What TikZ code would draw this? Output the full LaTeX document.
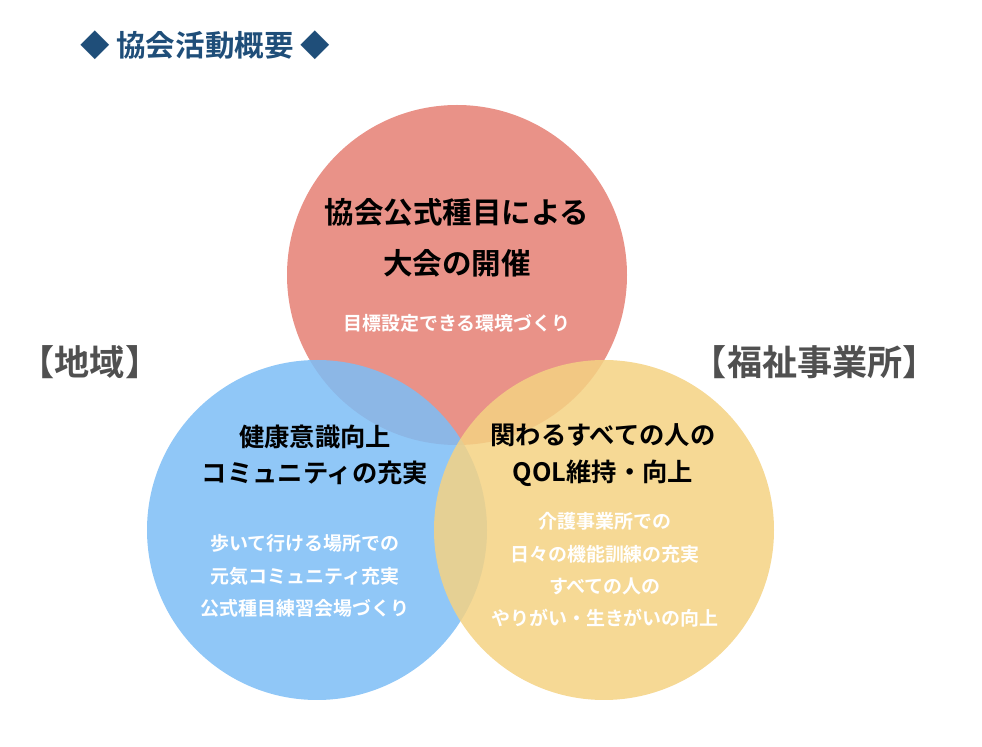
\documentclass[tikz,border=0pt]{standalone}
\usepackage{fontspec}
\setmainfont{Noto Sans CJK JP}
\newfontfamily\jpbold{Noto Sans CJK JP Bold}
\definecolor{titleblue}{HTML}{1F4E79}
\definecolor{redc}{HTML}{E57F73}
\definecolor{bluec}{HTML}{7CBDF6}
\definecolor{yellowc}{HTML}{F4D283}
\definecolor{sidegray}{HTML}{505050}

\begin{document}
\begin{tikzpicture}[x=0.025cm,y=-0.025cm]
    \tikzset{circ/.style = {circle, minimum size=340*0.025cm, inner sep=0pt, fill opacity=0.85}}
    \tikzset{head/.style = {font=\jpbold\fontsize{20}{27}\selectfont, align=center, text=black}}
    \tikzset{sub/.style = {font=\jpbold\fontsize{13.5}{23}\selectfont, align=center, text=white}}
    \tikzset{side/.style = {font=\jpbold\fontsize{25}{30}\selectfont, text=sidegray}}
    \useasboundingbox (0,0) rectangle (982,747);

    % circles
    \node[circ, fill=redc] (red) at (457,275) {};
    \node[circ, fill=bluec] (blue) at (317,530) {};
    \node[circ, fill=yellowc] (yellow) at (604,530) {};

    % title
    \node[font=\jpbold\fontsize{21}{25}\selectfont, text=titleblue] (title) at (205,45) {◆ 協会活動概要 ◆};

    % side labels
    \node[side] (area) at (90,362) {【地域】};
    \node[side] (welfare) at (815,362) {【福祉事業所】};

    % texts
    \node[head, font=\jpbold\fontsize{21}{36}\selectfont] (redhead) at (457,238) {協会公式種目による\\大会の開催};
    \node[sub] (redsub) at (457,323) {目標設定できる環境づくり};
    \node[head, font=\jpbold\fontsize{18}{26}\selectfont] (bluehead) at (315,455) {健康意識向上\\コミュニティの充実};
    \node[sub] (bluesub) at (305,576) {歩いて行ける場所での\\元気コミュニティ充実\\公式種目練習会場づくり};
    \node[head, font=\jpbold\fontsize{18}{26}\selectfont] (yellowhead) at (603,455) {関わるすべての人の\\QOL維持・向上};
    \node[sub] (yellowsub) at (605,570) {介護事業所での\\日々の機能訓練の充実\\すべての人の\\やりがい・生きがいの向上};
\end{tikzpicture}
\end{document}
